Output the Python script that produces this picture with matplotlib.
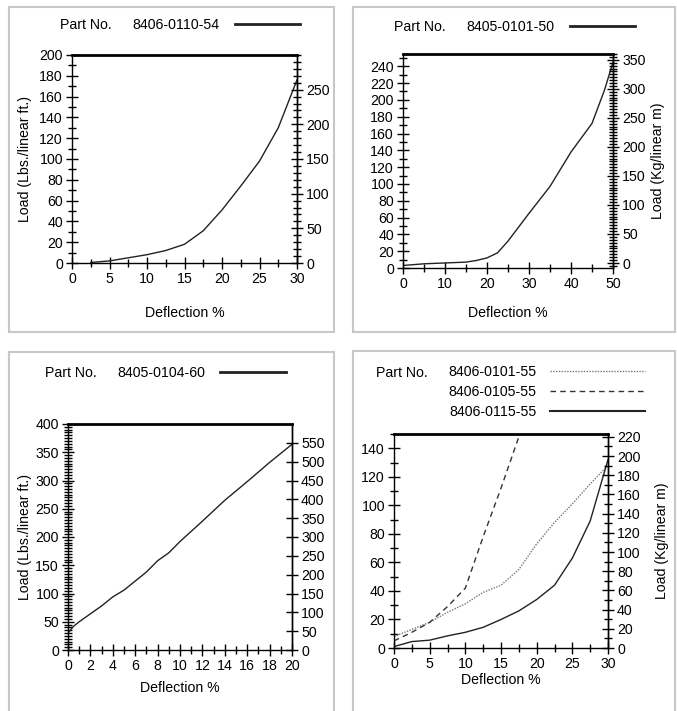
import matplotlib
matplotlib.use("Agg")
import matplotlib.pyplot as plt
from matplotlib.patches import Rectangle
from matplotlib.ticker import MultipleLocator

plt.rcParams['font.family'] = ['Liberation Sans', 'DejaVu Sans']
plt.rcParams['font.size'] = 10.2

# --- data ---
# panel 1: 8406-0110-54
p1_x = [2.5, 5, 7.5, 10, 12.5, 15, 17.5, 20, 22.5, 25, 27.5, 30]
p1_y = [0.5, 2, 5, 8, 12, 18, 31, 51, 74, 98, 130, 176]

# panel 2: 8405-0101-50
p2_x = [0, 5, 10, 15, 17.5, 20, 22.5, 25, 30, 35, 40, 45, 48, 50]
p2_y = [3, 5, 6, 7, 9, 12, 18, 32, 65, 97, 138, 172, 212, 245]

# panel 3: 8405-0104-60
p3_x = [0, 0.5, 1, 2, 3, 4, 5, 6, 7, 8, 9, 10, 12, 14, 16, 18, 20]
p3_y = [30, 42, 50, 64, 78, 94, 106, 122, 138, 158, 172, 192, 228, 265, 298, 332, 364]

# panel 4: three parts
p4_x = [0, 2.5, 5, 7.5, 10, 12.5, 15, 17.5, 20, 22.5, 25, 27.5, 30]
p4_0101 = [8, 13, 18, 25, 31, 39, 44, 55, 73, 88, 101, 115, 128]
p4_0105_x = [0, 2.5, 5, 7.5, 10, 12.5, 15, 17.5]
p4_0105 = [5, 11, 18, 29, 42, 78, 112, 148]
p4_0115 = [1, 4.5, 5.5, 8.5, 11, 14.5, 20, 26, 34, 44, 63, 89, 132]

W, H = 677, 711
fig = plt.figure(figsize=(W / 100, H / 100), dpi=100)


def fx(px):
    return px / W


def fy(py):
    return 1 - py / H


def make_axes(l, r, t, b):
    ax = fig.add_axes([fx(l), fy(b), fx(r) - fx(l), (b - t) / H])
    ax._px = (l, r, t, b)
    return ax


def place_xlabel(ax, text, ypx):
    l, r, t, b = ax._px
    ax.set_xlabel(text, va='center')
    ax.xaxis.set_label_coords(0.5, (b - ypx) / (b - t))


def place_ylabel(axis_owner, ax, text, xpx):
    l, r, t, b = ax._px
    axis_owner.set_ylabel(text, va='center')
    axis_owner.yaxis.set_label_coords((xpx - l) / (r - l), 0.5)


def style(ax, right):
    for s in ['left', 'right', 'bottom']:
        ax.spines[s].set_linewidth(1.0)
    ax.spines['top'].set_linewidth(2.0)
    ax.tick_params(which='major', direction='inout', length=9, width=1.0, pad=2)
    ax.tick_params(which='minor', direction='inout', length=6, width=1.0)
    ax.tick_params(axis='x', which='both', top=False)
    ax.tick_params(axis='y', which='both', right=False)
    right.tick_params(which='major', direction='inout', length=9, width=1.0, pad=2)
    right.tick_params(which='minor', direction='inout', length=6, width=1.0)
    for s in right.spines.values():
        s.set_visible(False)
    right.spines['right'].set_visible(True)
    right.spines['right'].set_linewidth(1.0)
    ax.set_facecolor('none')


def border(x0, y0, x1, y1):
    fig.add_artist(Rectangle((fx(x0), fy(y1)), fx(x1) - fx(x0), (y1 - y0) / H,
                             transform=fig.transFigure, fill=False,
                             edgecolor='#c8c8c8', linewidth=1.5))


def part_legend(ax, partx, numx, ypx, hlen, pad, spacing=0.4):
    fig.text(fx(partx), fy(ypx), 'Part No.', va='center', ha='left')
    leg = ax.legend(loc='center left', bbox_to_anchor=(fx(numx), fy(ypx)),
                    bbox_transform=fig.transFigure, frameon=False, markerfirst=False,
                    handlelength=hlen, handletextpad=pad, borderpad=0,
                    borderaxespad=0, labelspacing=spacing)
    return leg


border(9, 7, 334, 332)
border(353, 7, 675, 332)
border(9, 352, 334, 720)
border(353, 351, 675, 720)

# ---- panel 1 ----
ax = make_axes(72, 297, 55, 263)
ax.plot(p1_x, p1_y, color='#222222', lw=1.0, label='8406-0110-54')
ax.set_xlim(0, 30)
ax.set_ylim(0, 200)
ax.xaxis.set_major_locator(MultipleLocator(5))
ax.xaxis.set_minor_locator(MultipleLocator(2.5))
ax.yaxis.set_major_locator(MultipleLocator(20))
ax.yaxis.set_minor_locator(MultipleLocator(10))
place_xlabel(ax, 'Deflection %', 313)
place_ylabel(ax, ax, 'Load (Lbs./linear ft.)', 25)
r = ax.twinx()
r.set_ylim(0, 300)
r.set_yticks([0, 50, 100, 150, 200, 250])
r.yaxis.set_minor_locator(MultipleLocator(10))
style(ax, r)
leg = part_legend(ax, 60, 132, 25, 4.6, 1.1)
leg.get_lines()[0].set_linewidth(2)

# ---- panel 2 ----
ax = make_axes(403, 613, 54, 268)
ax.plot(p2_x, p2_y, color='#222222', lw=1.0, label='8405-0101-50')
ax.set_xlim(0, 50)
ax.set_ylim(0, 254.6)
ax.xaxis.set_major_locator(MultipleLocator(10))
ax.xaxis.set_minor_locator(MultipleLocator(5))
ax.set_yticks(range(0, 241, 20))
ax.yaxis.set_minor_locator(MultipleLocator(10))
place_xlabel(ax, 'Deflection %', 313)
r = ax.twinx()
r.set_ylim(-8.6, 360)
r.set_yticks(range(0, 351, 50))
r.yaxis.set_minor_locator(MultipleLocator(5))
place_ylabel(r, ax, 'Load (Kg/linear m)', 658)
style(ax, r)
leg = part_legend(ax, 394, 466, 27, 4.6, 1.1)
leg.get_lines()[0].set_linewidth(2)

# ---- panel 3 ----
ax = make_axes(68, 292, 424, 650)
ax.plot(p3_x, p3_y, color='#222222', lw=1.0, label='8405-0104-60')
ax.set_xlim(0, 20)
ax.set_ylim(0, 400)
ax.xaxis.set_major_locator(MultipleLocator(2))
ax.xaxis.set_minor_locator(MultipleLocator(1))
ax.yaxis.set_major_locator(MultipleLocator(50))
ax.yaxis.set_minor_locator(MultipleLocator(5))
place_xlabel(ax, 'Deflection %', 688)
place_ylabel(ax, ax, 'Load (Lbs./linear ft.)', 25)
r = ax.twinx()
r.set_ylim(0, 600)
r.set_yticks(range(0, 551, 50))
style(ax, r)
leg = part_legend(ax, 45, 117, 373, 4.6, 1.1)
leg.get_lines()[0].set_linewidth(2)

# ---- panel 4 ----
ax = make_axes(394, 608, 434, 648)
ax.plot(p4_x, p4_0101, color='#777777', lw=1.0, ls=(0, (1, 1)), label='8406-0101-55')
ax.plot(p4_0105_x, p4_0105, color='#333333', lw=1.0, ls=(0, (4, 3)), label='8406-0105-55')
ax.plot(p4_x, p4_0115, color='#222222', lw=1.0, label='8406-0115-55')
ax.set_xlim(0, 30)
ax.set_ylim(0, 150)
ax.xaxis.set_major_locator(MultipleLocator(5))
ax.xaxis.set_minor_locator(MultipleLocator(2.5))
ax.set_yticks(range(0, 141, 20))
ax.yaxis.set_minor_locator(MultipleLocator(10))
place_xlabel(ax, 'Deflection %', 680)
r = ax.twinx()
r.set_ylim(0, 223)
r.set_yticks(range(0, 221, 20))
r.yaxis.set_minor_locator(MultipleLocator(10))
place_ylabel(r, ax, 'Load (Kg/linear m)', 662)
style(ax, r)
fig.text(fx(376), fy(373), 'Part No.', va='center', ha='left')
leg = ax.legend(loc='center left', bbox_to_anchor=(fx(448), fy(392)),
                bbox_transform=fig.transFigure, frameon=False, markerfirst=False,
                handlelength=6.7, handletextpad=1.0, borderpad=0,
                borderaxespad=0, labelspacing=0.4)
leg.get_lines()[2].set_linewidth(1.5)

fig.savefig('out.png', dpi=100)
